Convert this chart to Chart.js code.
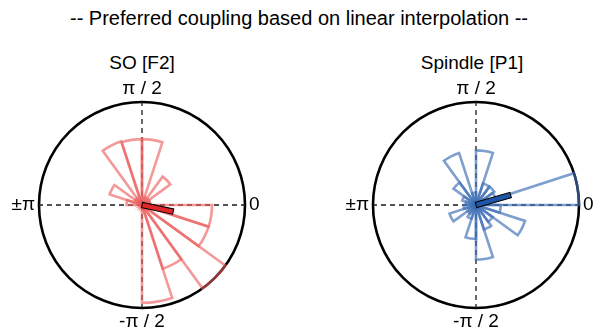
<!DOCTYPE html>
<html>
<head>
<meta charset="utf-8">
<script src="https://cdn.jsdelivr.net/npm/chart.js@4/dist/chart.umd.min.js"></script>
<style>
  html, body { margin: 0; padding: 0; background: #fff; }
  body { width: 595px; height: 336px; overflow: hidden; position: relative; font-family: 'Liberation Sans', Arial, sans-serif; color: #000; }
  .txt { position: absolute; text-align: center; white-space: nowrap; }
  #title { left: 0; width: 598px; top: 6px; font-size: 20px; line-height: 24px; }
  .sub { width: 240px; top: 52px; font-size: 19px; line-height: 22px; }
  canvas { position: absolute; top: 79px; }
</style>
</head>
<body>
<div id="title" class="txt">-- Preferred coupling based on linear interpolation --</div>
<div class="txt sub" style="left:22px">SO [F2]</div>
<div class="txt sub" style="left:352px">Spindle [P1]</div>
<canvas id="soChart" width="320" height="252" style="left:-18px"></canvas>
<canvas id="spChart" width="320" height="252" style="left:316px"></canvas>
<script>
// Phase bins (18° wide), listed clockwise starting at phase 0:
// bin i covers phase [-(i+1)*18°, -i*18°]
const binStartDeg = [0, -18, -36, -54, -72, -90, -108, -126, -144, -162,
                     -180, -198, -216, -234, -252, -270, -288, -306, -324, -342];
const binLabels = binStartDeg.map(d => d + '°');

// Axis tick labels at phase 0, -π/2, ±π, π/2 (every 5th bin boundary, clockwise)
const axisTickLabels = ['0', '-π / 2', '±π', 'π / 2'];

// Normalised histogram heights
const soValues = [0.68, 0.68, 1.00, 0.65, 0.95, 0, 0, 0, 0, 0,
                  0.15, 0.33, 0.08, 0.65, 0.64, 0.64, 0.08, 0.34, 0.08, 0.08];
const spindleValues = [0.24, 0.50, 0.20, 0.25, 0.53, 0.33, 0.14, 0.10, 0.27, 0.12,
                       0.10, 0.14, 0.27, 0.53, 0.12, 0.53, 0.22, 0.22, 0.20, 1.00];

// Mean coupling vectors (angle in degrees, length in the same units)
const soMeanAngle = -12;
const soMeanLength = 0.31;
const spindleMeanAngle = 16;
const spindleMeanLength = 0.35;

const rMax = 1.0;

function meanVector(angleDeg, length, fill) {
  return {
    id: 'meanVector',
    afterDatasetsDraw(chart) {
      const s = chart.scales.r;
      const len = s.getDistanceFromCenterForValue(length);
      const ctx = chart.ctx;
      ctx.save();
      ctx.translate(s.xCenter, s.yCenter);
      ctx.rotate(-angleDeg * Math.PI / 180);
      ctx.beginPath();
      ctx.rect(0, -2.7, len, 5.4);
      ctx.fillStyle = fill;
      ctx.fill();
      ctx.lineWidth = 1;
      ctx.strokeStyle = '#000';
      ctx.stroke();
      ctx.restore();
    }
  };
}

function makeChart(id, values, stroke, mAngle, mLen, mFill) {
  return new Chart(document.getElementById(id), {
    type: 'polarArea',
    data: {
      labels: binLabels,
      datasets: [{
        data: values,
        backgroundColor: 'rgba(0,0,0,0)',
        borderColor: stroke,
        borderWidth: 2.6,
        borderJoinStyle: 'miter'
      }]
    },
    options: {
      responsive: false,
      animation: false,
      events: [],
      layout: { padding: 0 },
      plugins: { legend: { display: false }, tooltip: { enabled: false }, title: { display: false } },
      scales: {
        r: {
          min: 0,
          max: rMax,
          startAngle: 90,
          ticks: { display: false, stepSize: rMax },
          grid: {
            circular: true,
            lineWidth: 2.6,
            color: c => (c.tick && c.tick.value === rMax) ? '#000' : 'rgba(0,0,0,0)'
          },
          angleLines: {
            display: true,
            lineWidth: 1.3,
            borderDash: [5, 4],
            color: c => (c.index % 5 === 0) ? '#1a1a1a' : 'rgba(0,0,0,0)'
          },
          pointLabels: {
            display: true,
            padding: 4,
            color: '#000',
            font: { family: "'Liberation Sans', Arial, sans-serif", size: 19, lineHeight: 1 },
            callback: (label, i) => (i % 5 === 0) ? axisTickLabels[i / 5] : ''
          }
        }
      }
    },
    plugins: [meanVector(mAngle, mLen, mFill)]
  });
}

makeChart('soChart', soValues, 'rgba(236, 90, 90, 0.62)', soMeanAngle, soMeanLength, '#e0262a');
makeChart('spChart', spindleValues, 'rgba(60, 110, 180, 0.66)', spindleMeanAngle, spindleMeanLength, '#1f56a8');
</script>
</body>
</html>
